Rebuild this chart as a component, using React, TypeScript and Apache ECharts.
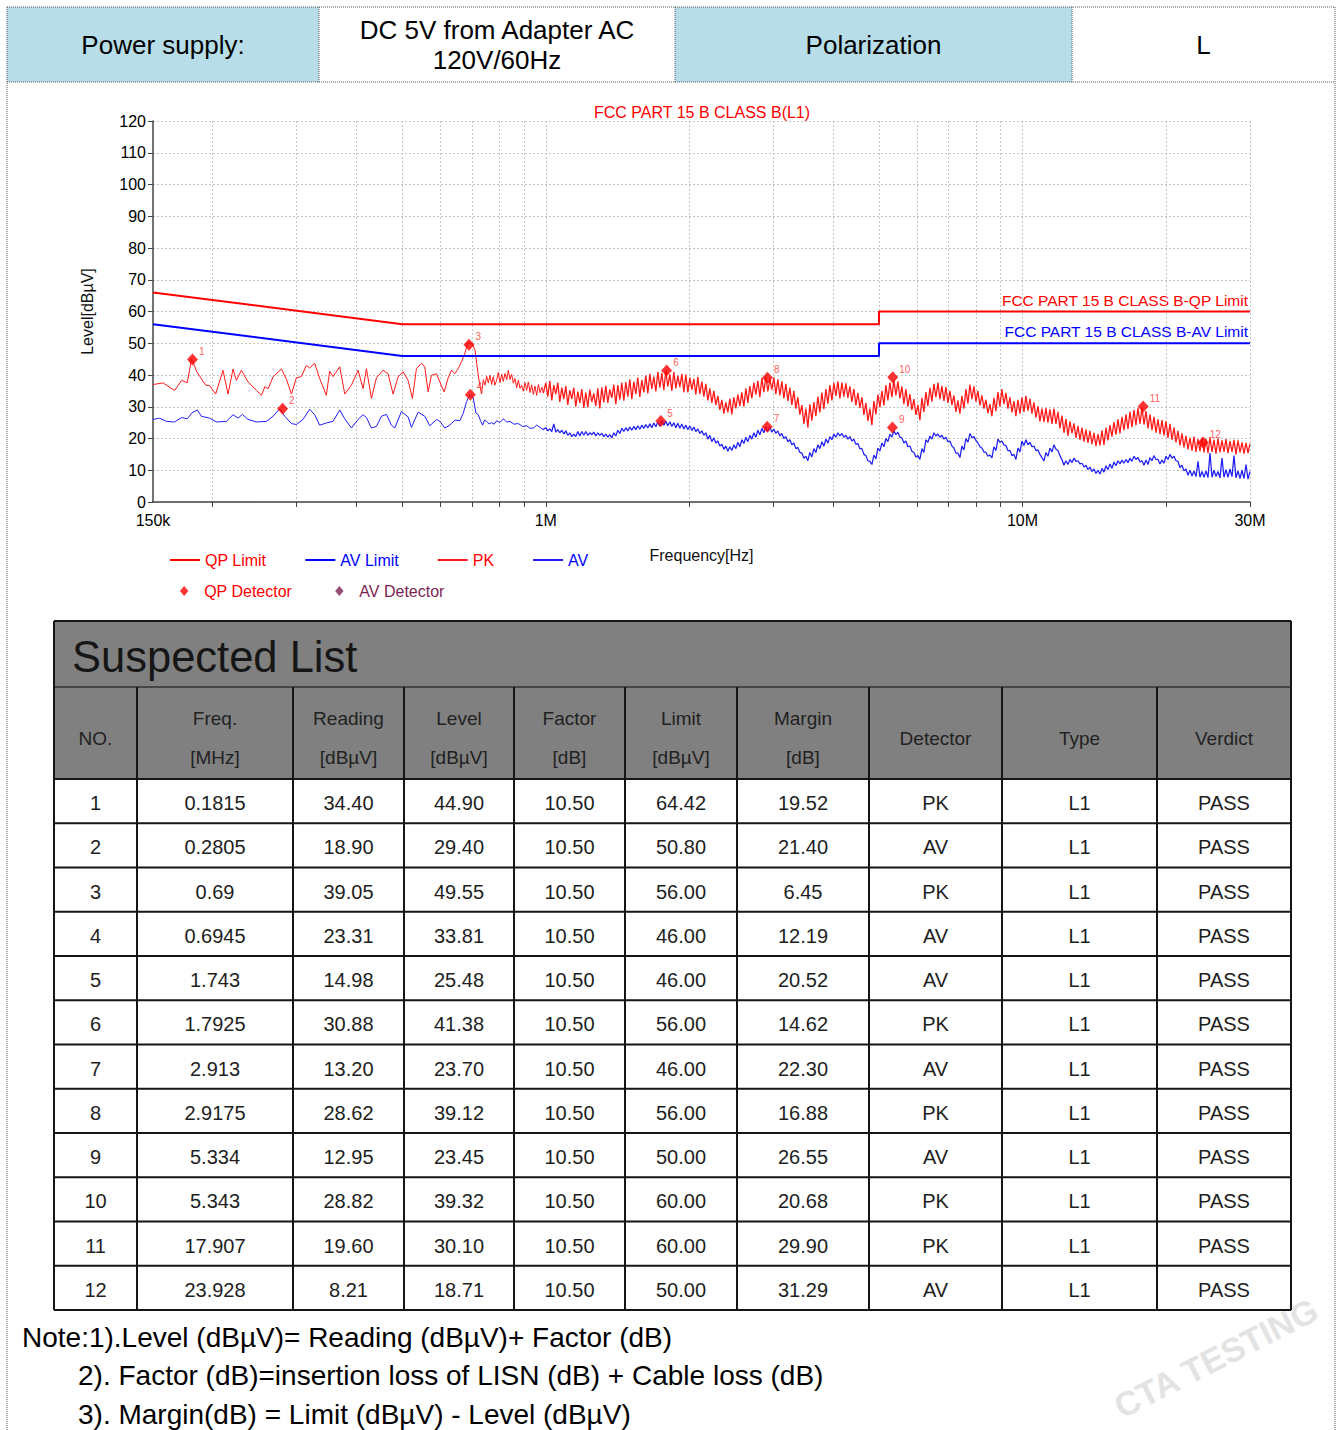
import React, { useEffect, useRef } from 'react';
import * as echarts from 'echarts';

const FONT = "'Liberation Sans', Arial, sans-serif";

// ---------- axis ticks ----------
const X_LABEL_VALUES = [0.15, 1, 10, 30];
const X_LABEL_TEXTS = ['150k', '1M', '10M', '30M'];
const X_MINOR_VALUES = [0.2, 0.3, 0.4, 0.5, 0.6, 0.7, 0.8, 0.9, 1, 2, 3, 4, 5, 6, 7, 8, 9, 10, 20, 30];

// ---------- limits (MHz, dBuV) ----------
const QP_LIMIT = [[0.15, 66], [0.5, 56], [5, 56], [5, 60], [30, 60]];
const AV_LIMIT = [[0.15, 56], [0.5, 46], [5, 46], [5, 50], [30, 50]];

// ---------- measured traces, 150 kHz - 1 MHz (MHz, dBuV) ----------
const PK_LEFT = [[0.150,37.0],[0.1575,37.5],[0.1665,35.1],[0.1722,38.3],[0.1770,37.6],[0.1808,45.2],[0.1853,41.0],[0.1935,36.8],[0.1973,36.6],[0.2030,34.0],[0.2103,41.5],[0.2155,34.0],[0.2208,41.9],[0.2244,38.3],[0.2299,41.5],[0.2374,37.8],[0.2472,35.2],[0.2533,33.6],[0.2574,36.3],[0.2616,35.7],[0.2679,39.4],[0.2789,41.9],[0.2857,38.7],[0.2927,34.0],[0.2998,39.1],[0.3071,39.5],[0.3146,43.0],[0.3197,42.2],[0.3275,43.7],[0.3355,38.9],[0.3465,33.6],[0.3521,41.2],[0.3579,39.5],[0.3696,42.6],[0.3787,34.0],[0.3911,36.8],[0.4039,41.5],[0.4138,35.7],[0.4205,42.0],[0.4308,32.6],[0.4413,39.1],[0.4557,41.5],[0.4669,40.4],[0.4783,34.0],[0.4900,39.4],[0.5020,41.0],[0.5143,38.3],[0.5251,32.6],[0.5354,42.0],[0.5485,43.7],[0.5574,42.6],[0.5665,34.7],[0.5757,39.9],[0.5898,40.4],[0.5994,37.8],[0.6121,34.7],[0.6241,39.1],[0.6343,41.5],[0.6446,40.4],[0.6551,42.0],[0.6658,44.2],[0.6766,46.8],[0.6854,49.9],[0.6988,50.1],[0.7102,47.9],[0.7218,39.9],[0.7276,36.5],[0.7335,34.0],[0.7395,38.5],[0.7454,36.8],[0.7515,39.6],[0.7576,37.5],[0.7636,39.9],[0.7700,37.0],[0.7760,39.5],[0.7820,36.8],[0.7886,38.3],[0.7950,40.8],[0.8015,37.6],[0.8080,40.2],[0.8145,38.0],[0.8210,40.5],[0.8280,38.5],[0.8345,41.5],[0.8412,38.6],[0.8480,40.2],[0.8550,37.4],[0.8618,38.9],[0.8690,36.0],[0.8760,38.4],[0.8830,35.8],[0.8900,36.8],[0.8970,34.9],[0.9045,37.6],[0.9118,35.2],[0.9190,37.8],[0.9266,34.5],[0.9340,36.9],[0.9415,33.9],[0.9490,36.5],[0.9570,33.6],[0.9650,37.0],[0.9730,34.4],[0.9810,36.2],[0.9884,34.3]];

const AV_LEFT = [[0.150,26.0],[0.1549,26.4],[0.1600,25.4],[0.1665,25.2],[0.1722,26.6],[0.1770,26.2],[0.1808,28.0],[0.1859,29.0],[0.1895,27.0],[0.1973,26.4],[0.2037,25.2],[0.2138,25.4],[0.2208,27.5],[0.2262,26.4],[0.2310,27.6],[0.2374,26.0],[0.2472,25.2],[0.2595,25.4],[0.2679,27.0],[0.2767,29.4],[0.2834,27.0],[0.2927,24.7],[0.2998,24.4],[0.3095,26.0],[0.3197,29.2],[0.3275,27.5],[0.3355,24.2],[0.3465,24.9],[0.3579,25.4],[0.3696,29.0],[0.3787,26.2],[0.3911,23.3],[0.4039,26.0],[0.4138,27.5],[0.4205,26.6],[0.4308,23.3],[0.4413,23.8],[0.4521,27.0],[0.4632,27.6],[0.4745,24.2],[0.4822,23.3],[0.4980,28.5],[0.5143,26.8],[0.5226,23.5],[0.5398,28.3],[0.5574,27.0],[0.5711,24.0],[0.5898,26.0],[0.5994,25.4],[0.6141,23.3],[0.6291,24.2],[0.6446,25.8],[0.6604,25.6],[0.6712,28.0],[0.6821,31.6],[0.6932,33.8],[0.7045,32.8],[0.7136,28.0],[0.7218,27.5],[0.7295,25.6],[0.7370,24.2],[0.7440,25.8],[0.7514,25.4],[0.7600,24.6],[0.7697,25.0],[0.7790,24.5],[0.7886,25.6],[0.8010,25.0],[0.8145,26.2],[0.8280,25.2],[0.8412,25.4],[0.8580,24.5],[0.8757,24.7],[0.8940,23.8],[0.9119,24.0],[0.9270,23.2],[0.9418,23.3],[0.9570,24.2],[0.9727,23.5],[0.9860,22.8]];

// ---------- measured traces, 1 MHz - 30 MHz on the receiver's log sweep (dBuV) ----------
const PK_RIGHT = [
37.5,33.2,38.2,32,36.8,34,37.6,31.5,36,32.4,
36.5,30.6,35.2,32.5,36,30,34.8,31.2,35.6,29.6,
34.5,29.8,35.4,31.5,34.2,30.2,35.8,29.5,36.1,31.4,
36.6,31.2,35.5,32.8,37,30.8,36.8,32.2,37.6,31.9,
37.8,33.2,38.6,32.4,37.9,34,39.2,33.1,38.4,34.5,
39.8,34.2,40.4,35.6,39.5,34.8,41,36,40.6,35.2,
41.4,36.3,40.2,35,41,35.8,39.8,36.2,40.4,34.6,
40.1,34.5,39.2,35.4,38.8,33.9,39.4,34,37.9,33.2,
37.2,32,35.8,31.2,35,30.5,33.4,29,32.2,27.8,
31.4,28.2,32.6,27.6,33,29.5,33.8,30.2,34.5,30,
35.8,31.2,36.5,32.6,37.6,33.8,38.2,33,39,34.6,
39.6,34.8,38.8,35.4,39.2,34,38.6,33.6,38,32.6,
37.2,31.8,36,30.6,35,29.4,33,27.5,30.5,24.6,
29.4,23.4,30.8,25.6,31.5,27,33.2,28.2,34.5,29.2,
35.6,31,36.8,32,37.5,33.4,38,32.6,37.6,33.2,
37.4,32.8,36.4,31.5,35.6,30.4,34.4,29.6,33,27.4,
31.2,25.5,29.4,24.2,31.8,27.6,33.8,29.8,35,30.4,
36.8,32,37.6,33,38.4,33.6,38,32.6,36.4,30.8,
35.6,30,34,29,32.4,27.4,30.6,25.8,32.8,28.4,
34.6,30.2,36,31.6,37.2,33,37.6,32.4,36.6,31.8,
36.2,31.2,35,30.6,33.6,28.4,32,27.8,33.4,29.4,
35.6,31,37,32.4,36.4,31.6,35,30.4,33.6,29.4,
32.2,28,30.8,27,32.8,28.6,34.6,30,35.6,30.8,
34.4,29.4,33,28.2,31.8,27,32.2,27.8,33,28.4,
33.4,28.8,32.6,27.8,31.4,26.6,30.2,25.4,29.4,25.2,
29.6,25,29.2,24.6,29.4,24.6,28.4,23.2,27.2,21.8,
26.2,20.8,25.4,21.6,24.8,20.2,24,19.6,23.4,19,
22.8,18.6,22.4,18.2,21.8,17.6,21.4,17.8,22.6,18,
23.4,19.4,24.2,20.6,25.2,21.2,26,21.6,26.8,22.6,
27.6,23,28.4,23.6,29,24.2,29.6,24.6,29.8,24.4,
28.6,23.2,27.6,22.6,26.8,21.8,26,21.4,25.8,21,
25.4,20.2,24.6,19.6,23.4,18.8,22.4,17.8,21.6,17.2,
20.8,16.6,20.2,16.2,20.6,15.8,19.8,16,20.2,15.6,
19.8,15.4,20.4,15.8,19.6,15.2,20,15.6,19.4,15.8,
19.8,15.4,19.2,15.8,19.6,15,19.4,15.6,18.8,15.2,
18.6,15.4,18.4];

const AV_RIGHT = [
23.4,22.4,23,22.2,24.6,22,22.8,21.8,22.6,21.4,
22.4,21,21.8,20.6,21.4,20.6,22.2,20.8,22.2,21,
22.2,21,21.8,21.2,22,20.8,21.8,21,21.6,20.6,
21.4,20.4,21.2,20.2,21.8,20.8,22.6,21.6,23.2,22.2,
23.4,22.4,23.6,22.6,23.8,22.8,24,22.9,24.2,23.2,
24.4,23.3,24.6,23.4,24.9,23.7,25.2,23.9,25.6,24.2,
25.4,24,25.3,23.8,25,23.4,24.8,23.2,24.6,23,
24.2,22.8,23.9,22.5,23.6,22.2,23,21.6,22.4,21,
21.8,19.8,21,19,20.2,18.6,19.2,17.6,18.2,16.6,
17.6,16,17.4,16.2,18,16.8,18.8,17.4,19.6,18.4,
20.4,19,21,19.8,21.8,20.4,22.6,21.2,23.2,21.8,
23.8,22.2,23.6,22,23,21.6,22.4,20.8,21.6,20,
20.6,19,19.6,18,18.6,16.8,17.2,15.6,15.4,13.8,
14.4,13,15.6,14.2,16.8,15.6,18,16.8,19,17.6,
19.8,18.6,20.6,19.6,21.4,20.4,21.8,20.8,21.6,20.4,
21,19.8,20.6,19.2,19.8,18.2,18.4,16.8,16.8,15,
14.6,13,12.8,11.8,14.8,13.6,17,16,18.6,17.4,
20,19,21.4,20.4,22.4,21.2,22,20.4,20.2,18.6,
19.2,17.4,17.6,16,15.6,14.2,14.6,13.4,16.8,15.6,
19.6,18.8,20.8,19.8,21.8,20.8,21.4,20.4,21,19.8,
20.4,19,19.2,17.6,17,15.4,15.4,14,17.6,16.4,
20,18.8,21.6,20.2,20.6,19.4,18.6,17.4,17,15.8,
15.6,14.4,14.8,13.9,17.4,16.2,19.8,18.8,19.2,18,
17.8,16.2,16.2,14.6,15,13.4,17,15.8,19.2,17.8,
19.6,18,18.8,17.4,17.6,16.2,16.4,15,14,12.9,
15.6,14.4,17,15.8,18,16.6,16.2,14.6,13.4,11.6,
13,11.8,13.4,12.4,13.8,12.8,13,12,12.2,11,
11.6,10.2,11,9.6,10.4,9,10,8.8,10.6,9.4,
11.4,10.2,12,10.6,12.6,11.4,13,12,13.2,12.2,
13.4,12.4,13.8,12.8,14.4,13.4,14,12.6,13,11.6,
13.2,11.8,14,13,14.6,13.4,13.4,12,13.2,12.2,
14.4,13.4,15,13.8,14.4,13,12.8,10.8,11.6,9.8,
10.4,8.4,10,8.2,9.8,8,12.8,7.8,9.6,7.8,
9.8,7.7,15.4,7.8,10,8,9.6,7.6,13.8,7.8,
10.2,7.8,10.4,8,14.6,7.6,9.8,7.4,10,7.4,
11.8,7.2,9.6];

// ---------- suspected list ----------
const SUSPECT_NO = [1, 2, 3, 4, 5, 6, 7, 8, 9, 10, 11, 12];
const SUSPECT_FREQ = [0.1815, 0.2805, 0.69, 0.6945, 1.743, 1.7925, 2.913, 2.9175, 5.334, 5.343, 17.907, 23.928];
const SUSPECT_READING = [34.40, 18.90, 39.05, 23.31, 14.98, 30.88, 13.20, 28.62, 12.95, 28.82, 19.60, 8.21];
const SUSPECT_LEVEL = [44.90, 29.40, 49.55, 33.81, 25.48, 41.38, 23.70, 39.12, 23.45, 39.32, 30.10, 18.71];
const SUSPECT_FACTOR = [10.50, 10.50, 10.50, 10.50, 10.50, 10.50, 10.50, 10.50, 10.50, 10.50, 10.50, 10.50];
const SUSPECT_LIMIT = [64.42, 50.80, 56.00, 46.00, 46.00, 56.00, 46.00, 56.00, 50.00, 60.00, 60.00, 50.00];
const SUSPECT_MARGIN = [19.52, 21.40, 6.45, 12.19, 20.52, 14.62, 22.30, 16.88, 26.55, 20.68, 29.90, 31.29];
const SUSPECT_DETECTOR = ['PK', 'AV', 'PK', 'AV', 'AV', 'PK', 'AV', 'PK', 'AV', 'PK', 'PK', 'AV'];
const SUSPECT_TYPE = ['L1', 'L1', 'L1', 'L1', 'L1', 'L1', 'L1', 'L1', 'L1', 'L1', 'L1', 'L1'];
const SUSPECT_VERDICT = ['PASS', 'PASS', 'PASS', 'PASS', 'PASS', 'PASS', 'PASS', 'PASS', 'PASS', 'PASS', 'PASS', 'PASS'];

const TABLE_HEADERS = [['NO.'], ['Freq.', '[MHz]'], ['Reading', '[dBµV]'], ['Level', '[dBµV]'], ['Factor', '[dB]'], ['Limit', '[dBµV]'], ['Margin', '[dB]'], ['Detector'], ['Type'], ['Verdict']];

const INFO_CELLS = ['Power supply:', 'DC 5V from Adapter AC\n120V/60Hz', 'Polarization', 'L'];

const NOTES = [
  'Note:1).Level (dBµV)= Reading (dBµV)+ Factor (dB)',
  '2). Factor (dB)=insertion loss of LISN (dB) + Cable loss (dB)',
  '3). Margin(dB) = Limit (dBµV) - Level (dBµV)',
];

const CHART_TITLE = 'FCC PART 15 B CLASS B(L1)';
const QP_LIMIT_NAME = 'FCC PART 15 B CLASS B-QP Limit';
const AV_LIMIT_NAME = 'FCC PART 15 B CLASS B-AV Limit';
const WATERMARK = 'CTA TESTING';

// ---------- layout ----------
const W = 1338;
const H = 1430;
const INFO_X = [7, 319, 675, 1072, 1335];
const COL_X = [54, 137, 293, 404, 514, 625, 737, 869, 1002, 1157, 1291];
const TABLE_TOP = 621;
const TITLE_H = 66;
const HEAD_H = 92;
const ROW_H = 44.25;

function sweepFreqs(n: number): number[] {
  // receiver sweep points, log-spaced 1 MHz .. 30 MHz
  const out: number[] = [];
  for (let i = 0; i < n; i++) out.push(Math.pow(30, i / (n - 1)));
  return out;
}

function txt(x: number, y: number, text: string, size: number, fill: string, align = 'center', extra: any = {}) {
  return {
    type: 'text', x, y, silent: true,
    style: { text, fill, fontSize: size, fontFamily: FONT, textAlign: align, textVerticalAlign: 'middle', verticalAlign: 'middle', ...extra },
  };
}
function ln(x1: number, y1: number, x2: number, y2: number, stroke: string, lineWidth: number, lineDash?: number[]) {
  return { type: 'line', silent: true, shape: { x1, y1, x2, y2 }, style: { stroke, lineWidth, lineDash } };
}
function rc(x: number, y: number, width: number, height: number, fill: string) {
  return { type: 'rect', silent: true, shape: { x, y, width, height }, style: { fill } };
}

function buildGraphics() {
  const g: any[] = [];
  // watermark
  g.push({
    type: 'text', x: 1216, y: 1358, rotation: 0.47, silent: true,
    style: { text: WATERMARK, fill: '#e3e3e3', fontSize: 34, fontWeight: 'bold', fontFamily: FONT, textAlign: 'center', textVerticalAlign: 'middle', verticalAlign: 'middle' },
  });
  // info header
  const blue = '#b6dde8';
  g.push(rc(INFO_X[0], 7, INFO_X[1] - INFO_X[0], 75, blue));
  g.push(rc(INFO_X[2], 7, INFO_X[3] - INFO_X[2], 75, blue));
  INFO_CELLS.forEach((t, i) => {
    const cx = (INFO_X[i] + INFO_X[i + 1]) / 2;
    const lines = t.split('\n');
    if (lines.length === 1) g.push(txt(cx, 45, t, 26, '#000'));
    else {
      g.push(txt(cx, 30, lines[0], 26, '#000'));
      g.push(txt(cx, 60, lines[1], 26, '#000'));
    }
  });
  const dot = [1, 1];
  g.push(ln(7, 7, 1335, 7, '#555', 1, dot));
  g.push(ln(7, 82, 1335, 82, '#555', 1, dot));
  g.push(ln(7, 7, 7, H, '#555', 1, dot));
  g.push(ln(1335, 7, 1335, H, '#555', 1, dot));
  for (let i = 1; i < INFO_X.length - 1; i++) g.push(ln(INFO_X[i], 7, INFO_X[i], 82, '#555', 1, dot));

  // limit names
  g.push(txt(1248, 300, QP_LIMIT_NAME, 15.5, '#ff0000', 'right'));
  g.push(txt(1248, 331, AV_LIMIT_NAME, 15.5, '#0000ff', 'right'));

  // suspected list table
  const left = COL_X[0];
  const right = COL_X[COL_X.length - 1];
  const headTop = TABLE_TOP + TITLE_H;
  const rowsTop = headTop + HEAD_H;
  const bottom = rowsTop + ROW_H * SUSPECT_NO.length;
  g.push(rc(left, TABLE_TOP, right - left, TITLE_H + HEAD_H, '#808080'));
  g.push(txt(72, TABLE_TOP + 36, 'Suspected List', 43.5, '#161616', 'left'));
  TABLE_HEADERS.forEach((h, c) => {
    const cx = (COL_X[c] + COL_X[c + 1]) / 2;
    if (h.length === 1) g.push(txt(cx, headTop + 51, h[0], 19, '#222'));
    else {
      g.push(txt(cx, headTop + 31, h[0], 19, '#222'));
      g.push(txt(cx, headTop + 70, h[1], 19, '#222'));
    }
  });
  const cols = [
    SUSPECT_NO.map(String),
    SUSPECT_FREQ.map(String),
    SUSPECT_READING.map((v) => v.toFixed(2)),
    SUSPECT_LEVEL.map((v) => v.toFixed(2)),
    SUSPECT_FACTOR.map((v) => v.toFixed(2)),
    SUSPECT_LIMIT.map((v) => v.toFixed(2)),
    SUSPECT_MARGIN.map((v) => v.toFixed(2)),
    SUSPECT_DETECTOR,
    SUSPECT_TYPE,
    SUSPECT_VERDICT,
  ];
  cols.forEach((col, c) => {
    const cx = (COL_X[c] + COL_X[c + 1]) / 2;
    col.forEach((v, r) => g.push(txt(cx, rowsTop + ROW_H * (r + 0.5) + 2, v, 20, '#1e1e1e')));
  });
  const bl = '#151515';
  g.push(ln(left, TABLE_TOP, right, TABLE_TOP, bl, 2));
  g.push(ln(left, headTop, right, headTop, '#333', 1.5));
  for (let r = 0; r <= SUSPECT_NO.length; r++) g.push(ln(left, rowsTop + ROW_H * r, right, rowsTop + ROW_H * r, bl, 2));
  g.push(ln(left, TABLE_TOP, left, bottom, bl, 2));
  g.push(ln(right, TABLE_TOP, right, bottom, bl, 2));
  for (let c = 1; c < COL_X.length - 1; c++) g.push(ln(COL_X[c], headTop, COL_X[c], bottom, bl, 2));

  // notes
  g.push(txt(22, 1337, NOTES[0], 28, '#000', 'left'));
  g.push(txt(78, 1375, NOTES[1], 28, '#000', 'left'));
  g.push(txt(78, 1414, NOTES[2], 28, '#000', 'left'));
  return g;
}

export default function App() {
  const ref = useRef<HTMLDivElement>(null);
  useEffect(() => {
    if (!ref.current) return;
    const chart = echarts.init(ref.current, null, { renderer: 'svg', width: W, height: H });
    const sweep = sweepFreqs(PK_RIGHT.length);
    const pkLast = PK_LEFT[PK_LEFT.length - 1];
    const avLast = AV_LEFT[AV_LEFT.length - 1];
    const pkRight = [pkLast].concat(PK_RIGHT.map((v, i) => [sweep[i], v]));
    const avRight = [avLast].concat(AV_RIGHT.map((v, i) => [sweep[i], v]));
    const mk = (det: string) =>
      SUSPECT_NO.filter((_, i) => SUSPECT_DETECTOR[i] === det).map((n) => {
        const i = n - 1;
        return { name: String(n), value: [SUSPECT_FREQ[i], SUSPECT_LEVEL[i]] };
      });
    const markerLabel = { show: true, position: 'right', distance: 1, offset: [0, -8], formatter: '{b}', color: '#ff3030', fontSize: 10, fontFamily: FONT };
    const diamondIcon = 'path://M5,0L10,6L5,12L0,6Z';
    const red = '#ff1a1a';
    const blue = '#1f1ff5';

    const option: any = {
      animation: false,
      backgroundColor: '#ffffff',
      textStyle: { fontFamily: FONT },
      title: {
        text: CHART_TITLE, left: 589, top: 99,
        textStyle: { color: '#ff0000', fontSize: 16, fontWeight: 'normal', fontFamily: FONT },
      },
      legend: [
        {
          left: 165, top: 547, icon: 'rect', itemWidth: 30, itemHeight: 2, itemGap: 39, selectedMode: false,
          textStyle: { fontSize: 16, fontFamily: FONT },
          data: [
            { name: 'QP Limit', textStyle: { color: '#ff0000' } },
            { name: 'AV Limit', textStyle: { color: '#0000ff' } },
            { name: 'PK', textStyle: { color: '#ff0000' } },
            { name: 'AV', textStyle: { color: '#0000ff' } },
          ],
        },
        {
          left: 175, top: 578, itemWidth: 30, itemHeight: 10, itemGap: 43, selectedMode: false, symbolKeepAspect: true,
          textStyle: { fontSize: 16, fontFamily: FONT },
          data: [
            { name: 'QP Detector', icon: diamondIcon, itemStyle: { color: '#ff0000' }, textStyle: { color: '#ff0000' } },
            { name: 'AV Detector', icon: diamondIcon, itemStyle: { color: '#7b1f52' }, textStyle: { color: '#7b1f52' } },
          ],
        },
      ],
      grid: { left: 153, top: 121, width: 1097, height: 381, containLabel: false, outerBoundsMode: 'none' },
      xAxis: {
        type: 'log', logBase: 10, min: 0.15, max: 30,
        name: 'Frequency[Hz]', nameLocation: 'middle', nameGap: 45,
        nameTextStyle: { color: '#111', fontSize: 16, fontFamily: FONT },
        axisLine: { show: true, lineStyle: { color: '#444', width: 1.5 } },
        axisTick: { show: true, inside: false, length: 5, customValues: X_MINOR_VALUES, lineStyle: { color: '#444' } },
        axisLabel: {
          show: true, margin: 10, color: '#000', fontSize: 16, fontFamily: FONT,
          customValues: X_LABEL_VALUES,
          formatter: (v: number) => {
            const k = X_LABEL_VALUES.findIndex((t) => Math.abs(t - v) < 1e-6 * Math.max(1, t));
            return k >= 0 ? X_LABEL_TEXTS[k] : '';
          },
        },
        splitLine: { show: true, lineStyle: { color: '#c4c4c4', type: [2, 2], width: 1 } },
        minorTick: { show: false },
      },
      yAxis: {
        type: 'value', min: 0, max: 120, interval: 10,
        name: 'Level[dBµV]', nameLocation: 'middle', nameGap: 58, nameRotate: 90,
        nameTextStyle: { color: '#111', fontSize: 16, fontFamily: FONT },
        axisLine: { show: true, lineStyle: { color: '#444', width: 1.5 } },
        axisTick: { show: true, inside: false, length: 5, lineStyle: { color: '#444' } },
        axisLabel: { show: true, margin: 7, color: '#000', fontSize: 16, fontFamily: FONT },
        splitLine: { show: true, lineStyle: { color: '#c4c4c4', type: [2, 2], width: 1 } },
      },
      series: [
        {
          name: 'QP Limit', type: 'line', data: QP_LIMIT, showSymbol: false, symbol: 'none', z: 3,
          color: '#ff0000', lineStyle: { color: '#ff0000', width: 2 },
        },
        {
          name: 'AV Limit', type: 'line', data: AV_LIMIT, showSymbol: false, symbol: 'none', z: 3,
          color: '#0000ff', lineStyle: { color: '#0000ff', width: 2 },
        },
        {
          name: 'PK', type: 'line', data: PK_LEFT, showSymbol: false, symbol: 'none', z: 2,
          color: red, lineStyle: { color: red, width: 1 },
        },
        {
          name: 'PK', type: 'line', data: pkRight, showSymbol: false, symbol: 'none', z: 2,
          color: red, lineStyle: { color: red, width: 1.3 },
        },
        {
          name: 'AV', type: 'line', data: AV_LEFT, showSymbol: false, symbol: 'none', z: 2,
          color: blue, lineStyle: { color: blue, width: 1 },
        },
        {
          name: 'AV', type: 'line', data: avRight, showSymbol: false, symbol: 'none', z: 2,
          color: blue, lineStyle: { color: blue, width: 1.25 },
        },
        {
          name: 'QP Detector', type: 'scatter', data: mk('PK'), symbol: 'diamond', symbolSize: [11, 12], z: 5,
          itemStyle: { color: '#ff0000' }, label: markerLabel,
        },
        {
          name: 'AV Detector', type: 'scatter', data: mk('AV'), symbol: 'diamond', symbolSize: [11, 12], z: 5,
          itemStyle: { color: '#ff0000' }, label: markerLabel,
        },
      ],
      graphic: { elements: buildGraphics() },
    };
    chart.setOption(option);
    return () => chart.dispose();
  }, []);
  return <div ref={ref} style={{ position: 'absolute', left: 0, top: 0, width: W, height: H, background: '#fff' }} />;
}
